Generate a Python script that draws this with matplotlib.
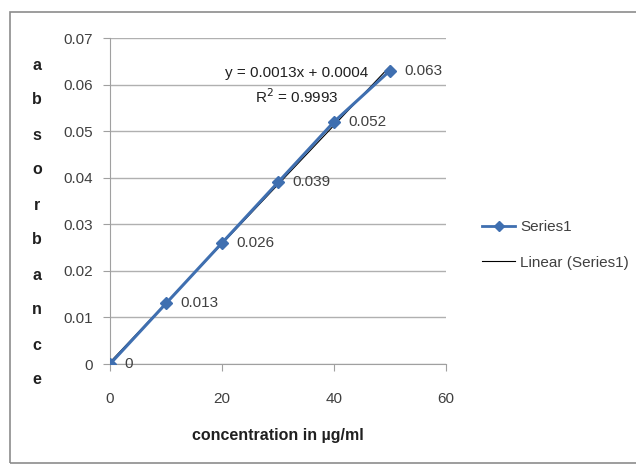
import numpy as np
import matplotlib.pyplot as plt
from matplotlib.patches import Rectangle
from matplotlib.lines import Line2D

# data
conc = [0, 10, 20, 30, 40, 50]
absorb = [0, 0.013, 0.026, 0.039, 0.052, 0.063]
point_labels = ['0', '0.013', '0.026', '0.039', '0.052', '0.063']
y_ticks = [0, 0.01, 0.02, 0.03, 0.04, 0.05, 0.06, 0.07]
y_tick_labels = ['0', '0.01', '0.02', '0.03', '0.04', '0.05', '0.06', '0.07']
x_ticks = [0, 20, 40, 60]
ylabel_letters = list('absorbance')

FONT = ['Liberation Sans Narrow', 'Liberation Sans', 'DejaVu Sans']
BLUE = '#3f6fb0'
TEXT = '#404040'

plt.rcParams['font.family'] = FONT

fig = plt.figure(figsize=(6.36, 4.70), dpi=100)
ax = fig.add_axes([110 / 636, 1 - 364 / 470, 336 / 636, 326 / 470])

# outer chart frame
fig.patches.append(Rectangle((10 / 636, 1 - 463 / 470), 630 / 636, 451 / 470,
                             transform=fig.transFigure, fill=False,
                             edgecolor='#8c8c8c', linewidth=1.2))

# linear fit (trendline), drawn under the series
slope, intercept = np.polyfit(conc, absorb, 1)
fit_x = np.array([conc[0], conc[-1]])
ax.plot(fit_x, slope * fit_x + intercept, color='black', linewidth=0.8, zorder=3)

ax.plot(conc, absorb, color=BLUE, linewidth=2.2, marker='D', markersize=6.5,
        markeredgecolor=BLUE, zorder=4)

for x, y, lab in zip(conc, absorb, point_labels):
    ax.annotate(lab, (x, y), xytext=(10, 0), textcoords='offset points',
                va='center', ha='left', fontsize=11, color=TEXT)

ax.text(33.4, 0.0625, 'y = 0.0013x + 0.0004', ha='center', va='center',
        fontsize=11, color='#202020')
ax.text(33.4, 0.0574, 'R$^2$ = 0.9993', ha='center', va='center',
        fontsize=11, color='#202020')

ax.set_xlim(0, 60)
ax.set_ylim(0, 0.07)
ax.set_yticks(y_ticks)
ax.set_yticklabels(y_tick_labels)
ax.set_xticks(x_ticks)
ax.grid(axis='y', color='#b0b0b0', linewidth=1)
ax.set_axisbelow(True)
for s in ['top', 'right']:
    ax.spines[s].set_visible(False)
for s in ['left', 'bottom']:
    ax.spines[s].set_color('#a0a0a0')
ax.tick_params(axis='y', length=5, color='#a0a0a0', labelsize=11,
               labelcolor=TEXT, pad=7)
ax.tick_params(axis='x', length=5, color='#a0a0a0', labelsize=11,
               labelcolor=TEXT, pad=15)

ax.set_xlabel('concentration in µg/ml', fontsize=11.5, fontweight='bold',
              color='#202020', labelpad=16)

# vertical stacked y label
for i, ch in enumerate(ylabel_letters):
    fig.text(37 / 636, 1 - (65 + i * 35) / 470, ch, ha='center', va='center',
             fontsize=11.5, fontweight='bold', color='#202020')

handles = [Line2D([], [], color=BLUE, linewidth=2, marker='D', markersize=5),
           Line2D([], [], color='black', linewidth=0.8)]
fig.legend(handles, ['Series1', 'Linear (Series1)'], loc='center left',
           bbox_to_anchor=(468 / 636, 1 - 245 / 470), frameon=False,
           fontsize=11, labelcolor=TEXT, handlelength=2.2, handletextpad=0.3,
           labelspacing=1.4)

fig.savefig('out.png', dpi=100)
